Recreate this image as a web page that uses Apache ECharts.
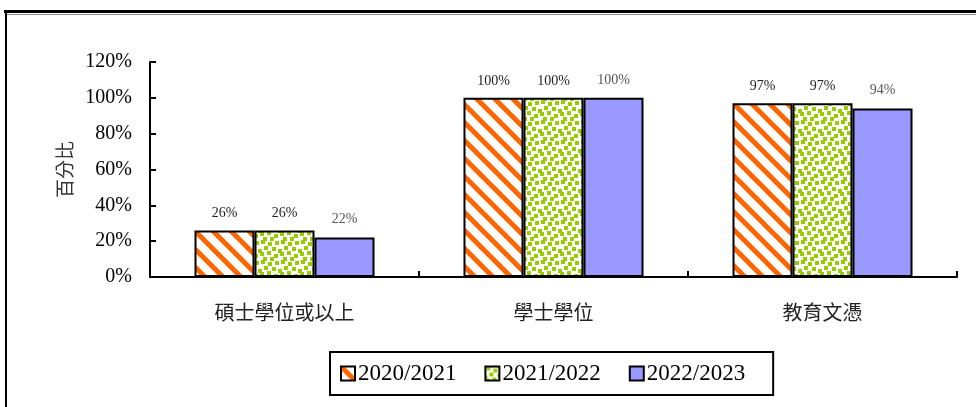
<!DOCTYPE html>
<html>
<head>
<meta charset="utf-8">
<script src="https://cdn.jsdelivr.net/npm/echarts@6/dist/echarts.min.js"></script>
<style>
html,body{margin:0;padding:0;background:#fff;}
#c{width:976px;height:407px;}
</style>
</head>
<body>
<div id="c"></div>
<script>
const categories = ['碩士學位或以上', '學士學位', '教育文憑'];
const seriesNames = ['2020/2021', '2021/2022', '2022/2023'];
const values2020 = [26, 100, 97];
const values2021 = [26, 100, 97];
const values2022 = [22, 100, 94];
const yTicks = [0, 20, 40, 60, 80, 100, 120];

function stripeTile() {
  const s = 18, c = document.createElement('canvas');
  c.width = s; c.height = s;
  const g = c.getContext('2d');
  g.fillStyle = '#ffffff'; g.fillRect(0, 0, s, s);
  g.strokeStyle = '#FF6600'; g.lineWidth = 5;
  for (const k of [-s, 0, s]) {
    g.beginPath(); g.moveTo(-2, -2 + k); g.lineTo(s + 2, s + 2 + k); g.stroke();
  }
  return c;
}
function dotTile() {
  const s = 20, c = document.createElement('canvas');
  c.width = s; c.height = s;
  const g = c.getContext('2d');
  g.fillStyle = '#ffffff'; g.fillRect(0, 0, s, s);
  g.fillStyle = '#99CC00';
  const pts = [[1,0],[8,2],[15,1],[4,6],[12,7],[18,9],[0,12],[7,11],[14,14],[3,17],[10,17]];
  for (const p of pts) {
    for (const dx of [0, -s, s]) for (const dy of [0, -s, s]) g.fillRect(p[0] + dx, p[1] + dy, 4, 4);
  }
  return c;
}

const colors = [
  {image: stripeTile(), repeat: 'repeat'},
  {image: dotTile(), repeat: 'repeat'},
  '#9999FF'
];
const dataSets = [values2020, values2021, values2022];

const chart = echarts.init(document.getElementById('c'));
const serif = '"Liberation Serif", "Times New Roman", serif';
const cjk = '"Noto Sans CJK TC", "Noto Sans CJK SC", sans-serif';

chart.setOption({
  animation: false,
  backgroundColor: '#ffffff',
  grid: {left: 150, right: 19, top: 62, bottom: 130, containLabel: false},
  legend: {
    left: 330, top: 352,
    itemWidth: 14, itemHeight: 14, itemGap: 28,
    icon: 'rect',
    borderColor: '#000', borderWidth: 2,
    padding: [10, 28, 10, 10],
    textStyle: {fontFamily: serif, fontSize: 23, color: '#000', padding: [0, 0, 0, -2]},
    data: seriesNames
  },
  xAxis: {
    type: 'category',
    data: categories,
    axisLine: {lineStyle: {color: '#000', width: 2}},
    axisTick: {show: true, inside: true, length: 6, interval: 0, lineStyle: {color: '#000', width: 2}},
    axisLabel: {fontFamily: cjk, fontSize: 20, color: '#222', margin: 25, interval: 0}
  },
  yAxis: {
    type: 'value',
    min: 0, max: 120, interval: 20,
    name: '百分比',
    nameLocation: 'middle',
    nameRotate: 90,
    nameGap: 76,
    nameTextStyle: {fontFamily: cjk, fontSize: 19, color: '#333'},
    axisLine: {show: true, lineStyle: {color: '#000', width: 2}},
    axisTick: {show: true, inside: true, length: 6, lineStyle: {color: '#000', width: 2}},
    splitLine: {show: false},
    axisLabel: {
      fontFamily: serif, fontSize: 20, color: '#000', margin: 18,
      formatter: function (v) { return yTicks.indexOf(v) >= 0 ? v + '%' : ''; }
    }
  },
  series: seriesNames.map((n, i) => ({
    name: n,
    type: 'bar',
    data: dataSets[i],
    barWidth: 60,
    barGap: '0%',
    itemStyle: {color: colors[i], borderColor: '#000', borderWidth: 2},
    label: {
      show: true, position: 'top', distance: i === 2 ? 11 : 10,
      fontFamily: serif, fontSize: 14, color: i === 2 ? '#555' : '#222',
      formatter: '{c}%'
    }
  })),
  graphic: [
    {type: 'line', shape: {x1: 4, y1: 11.5, x2: 976, y2: 11.5}, style: {stroke: '#000', lineWidth: 3}},
    {type: 'line', shape: {x1: 6, y1: 14.5, x2: 976, y2: 14.5}, style: {stroke: '#888', lineWidth: 1}},
    {type: 'line', shape: {x1: 6, y1: 12, x2: 6, y2: 407}, style: {stroke: '#000', lineWidth: 2}}
  ]
});
</script>
</body>
</html>
